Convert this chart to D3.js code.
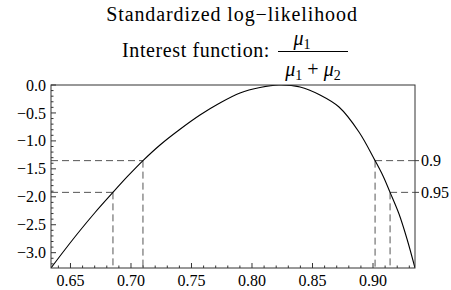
<!DOCTYPE html>
<html>
<head>
<meta charset="utf-8">
<script src="https://cdn.jsdelivr.net/npm/d3@7"></script>
<style>
  body { margin: 0; background: #fff; }
  text { font-family: "Liberation Serif", "Times New Roman", serif; fill: #000; }
</style>
</head>
<body>
<div id="plot"></div>
<script>
// curve points (interest value, standardized log-likelihood)
const psi = [0.6339, 0.6455, 0.6579, 0.6703, 0.6851, 0.6975, 0.7099, 0.7240, 0.7397,
  0.7570, 0.7727, 0.7901, 0.8066, 0.8223, 0.8397, 0.8562, 0.8719, 0.8884, 0.9017,
  0.9083, 0.9141, 0.9215, 0.9281, 0.9347];
const loglik = [-3.274, -2.943, -2.603, -2.281, -1.921, -1.628, -1.353, -1.073, -0.805,
  -0.537, -0.331, -0.143, -0.045, 0, -0.036, -0.179, -0.394, -0.841, -1.353,
  -1.628, -1.921, -2.308, -2.755, -3.274];

// confidence levels and their intervals
const levels = ["0.9", "0.95"];
const levelValues = [-1.353, -1.921];
const lower = [0.7099, 0.6851];
const upper = [0.9017, 0.9141];

const xTicks = [0.65, 0.70, 0.75, 0.80, 0.85, 0.90];
const yTicks = [0, -0.5, -1, -1.5, -2, -2.5, -3];

const width = 451, height = 290;
const pLeft = 51, pRight = 415, pTop = 85, pBottom = 268;

const svg = d3.select("div#plot")
  .append("svg")
    .attr("width", width)
    .attr("height", height);

const x = d3.scaleLinear().domain([0.6339, 0.9347]).range([pLeft, pRight]);
const y = d3.scaleLinear().domain([-3.274, 0]).range([pBottom, pTop]);

// titles
svg.append("text")
  .attr("x", 232).attr("y", 21)
  .attr("text-anchor", "middle")
  .style("font-size", "20px")
  .style("letter-spacing", "0.9px")
  .text("Standardized log\u2212likelihood");

svg.append("text")
  .attr("x", 270).attr("y", 57)
  .attr("text-anchor", "end")
  .style("font-size", "20px")
  .style("letter-spacing", "0.6px")
  .text("Interest function:");

// fraction mu1 / (mu1 + mu2)
const num = svg.append("text")
  .attr("x", 302).attr("y", 45)
  .attr("text-anchor", "middle")
  .style("font-size", "20px");
num.append("tspan").style("font-style", "italic").text("\u03bc");
num.append("tspan").attr("dy", 4).style("font-size", "14px").text("1");

svg.append("line")
  .attr("x1", 278).attr("x2", 348)
  .attr("y1", 51.5).attr("y2", 51.5)
  .attr("stroke", "#000").attr("stroke-width", 1.2);

const den = svg.append("text")
  .attr("x", 313).attr("y", 76)
  .attr("text-anchor", "middle")
  .style("font-size", "20px");
den.append("tspan").style("font-style", "italic").text("\u03bc");
den.append("tspan").attr("dy", 4).style("font-size", "14px").text("1");
den.append("tspan").attr("dy", -4).text(" + ");
den.append("tspan").style("font-style", "italic").text("\u03bc");
den.append("tspan").attr("dy", 4).style("font-size", "14px").text("2");

// clip for the curve
svg.append("clipPath").attr("id", "clip")
  .append("rect")
    .attr("x", pLeft).attr("y", pTop)
    .attr("width", pRight - pLeft).attr("height", pBottom - pTop);

// dashed guides
const dash = "7,4";
levels.forEach(function(lev, i) {
  const yy = y(levelValues[i]);
  svg.append("line")
    .attr("x1", pLeft).attr("x2", x(lower[i]))
    .attr("y1", yy).attr("y2", yy)
    .attr("stroke", "#555").attr("stroke-dasharray", dash);
  svg.append("line")
    .attr("x1", x(lower[i])).attr("x2", x(lower[i]))
    .attr("y1", yy).attr("y2", pBottom)
    .attr("stroke", "#555").attr("stroke-dasharray", dash);
  svg.append("line")
    .attr("x1", x(upper[i])).attr("x2", pRight)
    .attr("y1", yy).attr("y2", yy)
    .attr("stroke", "#555").attr("stroke-dasharray", dash);
  svg.append("line")
    .attr("x1", x(upper[i])).attr("x2", x(upper[i]))
    .attr("y1", yy).attr("y2", pBottom)
    .attr("stroke", "#555").attr("stroke-dasharray", dash);
  // right side tick and label
  svg.append("line")
    .attr("x1", pRight).attr("x2", pRight + 4)
    .attr("y1", yy).attr("y2", yy)
    .attr("stroke", "#444");
  svg.append("text")
    .attr("x", pRight + 6).attr("y", yy)
    .attr("dy", "0.35em")
    .style("font-size", "16px")
    .text(lev);
});

// the curve
const pts = psi.map(function(p, i) { return [p, loglik[i]]; });
svg.append("path")
  .datum(pts)
  .attr("clip-path", "url(#clip)")
  .attr("fill", "none")
  .attr("stroke", "#000")
  .attr("stroke-width", 1.1)
  .attr("d", d3.line()
    .x(function(d) { return x(d[0]); })
    .y(function(d) { return y(d[1]); })
    .curve(d3.curveCatmullRom.alpha(0.5)));

// frame
svg.append("rect")
  .attr("x", pLeft).attr("y", pTop)
  .attr("width", pRight - pLeft).attr("height", pBottom - pTop)
  .attr("fill", "none")
  .attr("stroke", "#333").attr("stroke-width", 1);

// inward ticks, bottom
const xMinor = d3.range(64, 94).map(function(v) { return v / 100; });
svg.selectAll(".xminor")
  .data(xMinor)
  .join("line")
  .attr("class", "xminor")
  .attr("x1", function(d) { return x(d); }).attr("x2", function(d) { return x(d); })
  .attr("y1", pBottom).attr("y2", function(d) {
    return xTicks.some(function(t) { return Math.abs(t - d) < 1e-6; }) ? pBottom - 5 : pBottom - 2.5;
  })
  .attr("stroke", "#333");

svg.selectAll(".xlab")
  .data(xTicks)
  .join("text")
  .attr("class", "xlab")
  .attr("x", function(d) { return x(d); })
  .attr("y", 286)
  .attr("text-anchor", "middle")
  .style("font-size", "16px")
  .text(function(d) { return d.toFixed(2); });

// inward ticks, left
const yMinor = d3.range(-32, 1).map(function(v) { return v / 10; });
svg.selectAll(".yminor")
  .data(yMinor)
  .join("line")
  .attr("class", "yminor")
  .attr("y1", function(d) { return y(d); }).attr("y2", function(d) { return y(d); })
  .attr("x1", pLeft).attr("x2", function(d) {
    return yTicks.some(function(t) { return Math.abs(t - d) < 1e-6; }) ? pLeft + 5 : pLeft + 2.5;
  })
  .attr("stroke", "#333");

svg.selectAll(".ylab")
  .data(yTicks)
  .join("text")
  .attr("class", "ylab")
  .attr("x", 46)
  .attr("y", function(d) { return y(d); })
  .attr("dy", "0.35em")
  .attr("text-anchor", "end")
  .style("font-size", "16px")
  .text(function(d) { return d === 0 ? "0.0" : "\u2212" + Math.abs(d).toFixed(1); });
</script>
</body>
</html>
